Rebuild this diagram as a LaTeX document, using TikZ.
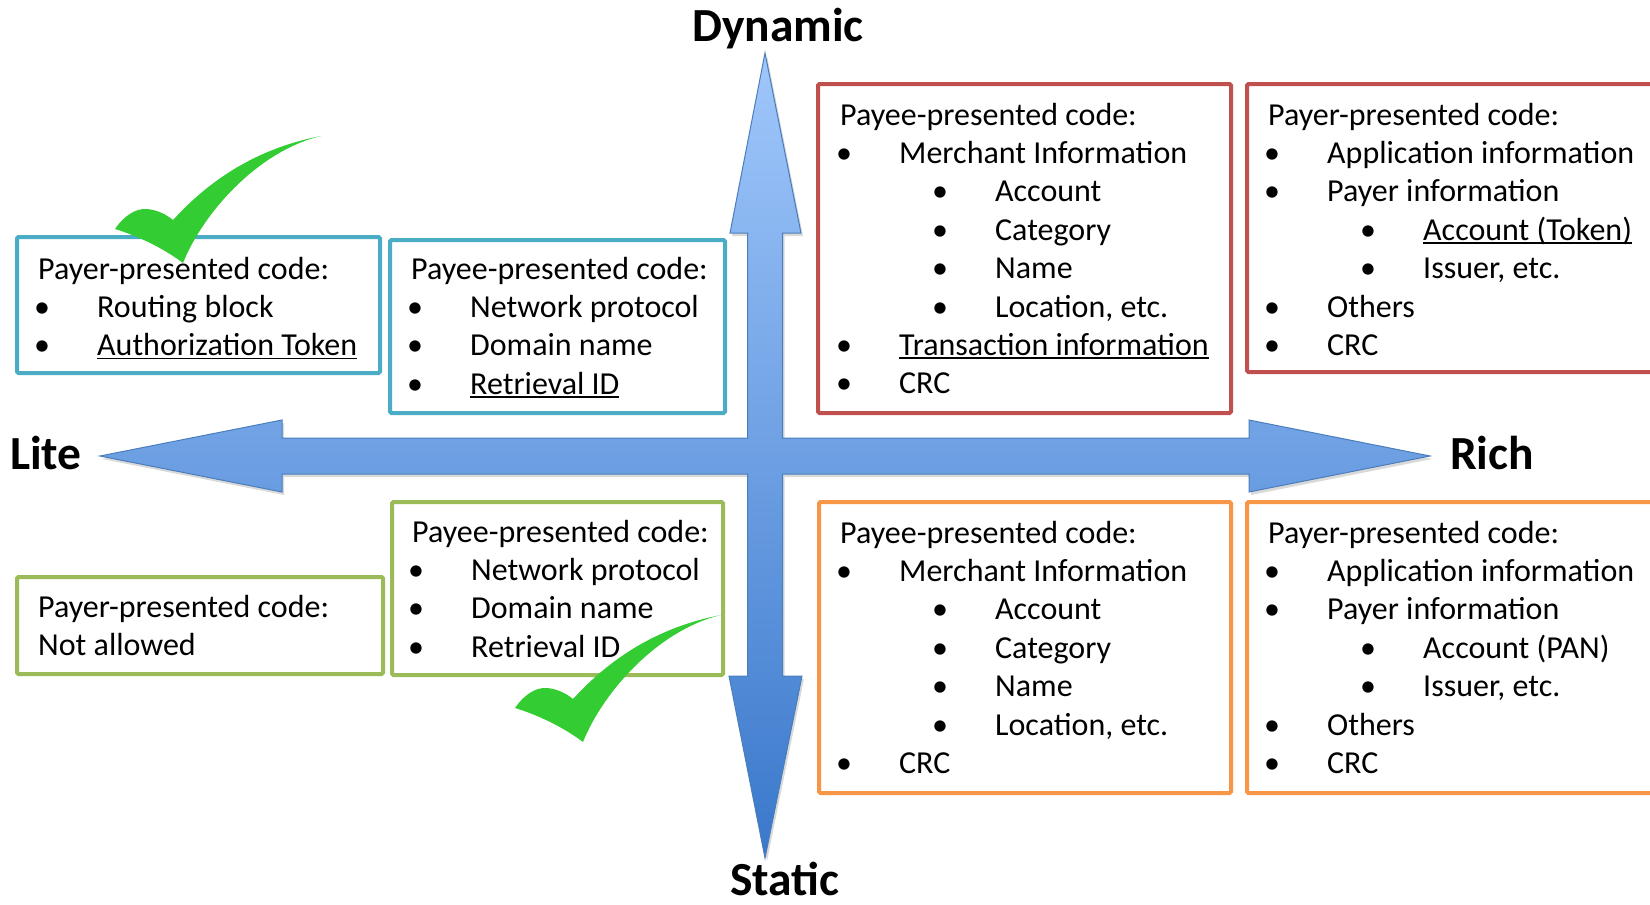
\documentclass[tikz,border=0pt]{standalone}
\usepackage{fontspec}
\setmainfont{Carlito}
\usetikzlibrary{fit}

\definecolor{cyanB}{RGB}{75,172,198}
\definecolor{redB}{RGB}{192,80,77}
\definecolor{greenB}{RGB}{155,187,89}
\definecolor{orangeB}{RGB}{247,150,70}
\definecolor{arrowTop}{RGB}{160,199,251}
\definecolor{arrowBot}{RGB}{58,120,203}
\definecolor{arrowLine}{RGB}{74,126,187}
\definecolor{tick}{RGB}{51,204,51}

% underlined text with a flat rule just under the baseline
\newcommand\uln[1]{{\setbox0\hbox{#1}\rlap{\rule[-3.5pt]{\wd0}{1.8pt}}\box0}}
% first- and second-level bullet lines
\newcommand\itemA[1]{\hspace*{-4pt}\makebox[63pt][l]{\textbullet}#1}
\newcommand\itemB[1]{\hspace*{92pt}\makebox[63pt][l]{\textbullet}#1}

\tikzset{
  qbox/.style={draw=#1, line width=4pt, rounded corners=1.5pt, inner sep=0pt},
  txt/.style={anchor=base west, inner sep=0pt, font=\fontsize{32}{38.4}\selectfont},
  ttl/.style={inner sep=0pt, font=\fontsize{47.5}{56}\selectfont\bfseries},
  crossshape/.style={insert path={
    (765,53) -- (801,233) -- (782.5,233) -- (782.5,438) -- (1249,438) -- (1249,420)
    -- (1430,456) -- (1249,492) -- (1249,474) -- (782.5,474) -- (782.5,676)
    -- (802,676) -- (765,858) -- (729,676) -- (747.5,676) -- (747.5,474)
    -- (282,474) -- (282,492) -- (100,456) -- (282,420) -- (282,438)
    -- (747.5,438) -- (747.5,233) -- (730,233) -- cycle}},
  checkshape/.style={insert path={
    (-68,-34) .. controls (-60,-46) and (-48,-55) .. (-36,-54)
    .. controls (-25,-53) and (-16,-48) .. (-10,-43)
    .. controls (15,-70) and (60,-112) .. (138,-127)
    .. controls (75,-112) and (20,-50) .. (0,0)
    .. controls (-20,-15) and (-45,-27) .. (-68,-34) -- cycle}}
}

\begin{document}
\begin{tikzpicture}[x=1pt,y=-1pt]
\useasboundingbox (0,0) rectangle (1650,905);
\clip (0,0) rectangle (1650,905);

% the two crossing axes
\fill[black, opacity=0.15, shift={(2,3)}, crossshape];
\shade[top color=arrowTop, bottom color=arrowBot, draw=arrowLine, line width=1pt,
       line join=miter, crossshape];

% axis labels
\node[ttl, anchor=base] (dyn) at (778,41) {Dynamic};
\node[ttl, anchor=base] (stat) at (785,895) {Static};
\node[ttl, anchor=base west] (lite) at (10,469) {Lite};
\node[ttl, anchor=base west] (rich) at (1450,469) {Rich};

% upper-left quadrant
\node[qbox=cyanB, fit={(17,237)(380,373)}] (boxA) {};
\node[txt] (tA) at (38,279) {\parbox[t]{420pt}{Payer-presented code:\\
  \itemA{Routing block}\\
  \itemA{\uln{Authorization Token}}}};
\node[qbox=cyanB, fit={(390,240)(725,413)}] (boxB) {};
\node[txt] (tB) at (411,279) {\parbox[t]{420pt}{Payee-presented code:\\
  \itemA{Network protocol}\\
  \itemA{Domain name}\\
  \itemA{\uln{Retrieval ID}}}};

% upper-right quadrant
\node[qbox=redB, fit={(818,84)(1231,413)}] (boxC) {};
\node[txt] (tC) at (840,125) {\parbox[t]{420pt}{Payee-presented code:\\
  \itemA{Merchant Information}\\
  \itemB{Account}\\
  \itemB{Category}\\
  \itemB{Name}\\
  \itemB{Location, etc.}\\
  \itemA{\uln{Transaction information}}\\
  \itemA{CRC}}};
\node[qbox=redB, fit={(1247,84)(1670,372)}] (boxD) {};
\node[txt] (tD) at (1268,125) {\parbox[t]{420pt}{Payer-presented code:\\
  \itemA{Application information}\\
  \itemA{Payer information}\\
  \itemB{\uln{Account (Token)}}\\
  \itemB{Issuer, etc.}\\
  \itemA{Others}\\
  \itemA{CRC}}};

% lower-left quadrant
\node[qbox=greenB, fit={(17,577)(383,674)}] (boxE) {};
\node[txt] (tE) at (38,617) {\parbox[t]{420pt}{Payer-presented code:\\
  Not allowed}};
\node[qbox=greenB, fit={(392,502)(723,675)}] (boxF) {};
\node[txt] (tF) at (412,542) {\parbox[t]{420pt}{Payee-presented code:\\
  \itemA{Network protocol}\\
  \itemA{Domain name}\\
  \itemA{Retrieval ID}}};

% lower-right quadrant
\node[qbox=orangeB, fit={(819,502)(1231,793)}] (boxG) {};
\node[txt] (tG) at (840,543) {\parbox[t]{420pt}{Payee-presented code:\\
  \itemA{Merchant Information}\\
  \itemB{Account}\\
  \itemB{Category}\\
  \itemB{Name}\\
  \itemB{Location, etc.}\\
  \itemA{CRC}}};
\node[qbox=orangeB, fit={(1247,502)(1670,793)}] (boxH) {};
\node[txt] (tH) at (1268,543) {\parbox[t]{420pt}{Payer-presented code:\\
  \itemA{Application information}\\
  \itemA{Payer information}\\
  \itemB{Account (PAN)}\\
  \itemB{Issuer, etc.}\\
  \itemA{Others}\\
  \itemA{CRC}}};

% check marks
\fill[tick, shift={(183,263)}, checkshape];
\fill[tick, shift={(583,742)}, checkshape];
\end{tikzpicture}
\end{document}
